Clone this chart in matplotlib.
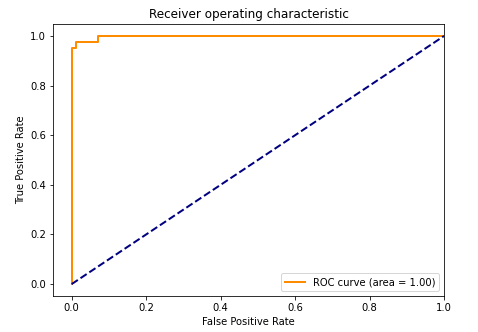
import matplotlib

matplotlib.use("Agg")

import matplotlib.pyplot as plt  # noqa: E402

# ROC curve points
fpr = [0.0, 0.0, 0.0125, 0.0125, 0.07, 0.07, 1.0]
tpr = [0.0, 0.953, 0.953, 0.977, 0.977, 1.0, 1.0]
roc_auc = 1.00
chance = [0.0, 1.0]

fig = plt.figure(figsize=(478 / 72, 332 / 72), dpi=72)
ax = fig.add_axes([0.111, 0.107, 0.818, 0.822])

ax.plot(fpr, tpr, color="darkorange", lw=2, label=f"ROC curve (area = {roc_auc:0.2f})")
ax.plot(chance, chance, color="navy", lw=2, linestyle="--")
ax.set_xlim([-0.05, 1.0])
ax.set_ylim([-0.05, 1.05])
ax.set_xlabel("False Positive Rate")
ax.set_ylabel("True Positive Rate")
ax.set_title("Receiver operating characteristic")
ax.legend(loc="lower right")

fig.savefig("out.png", dpi=72)
